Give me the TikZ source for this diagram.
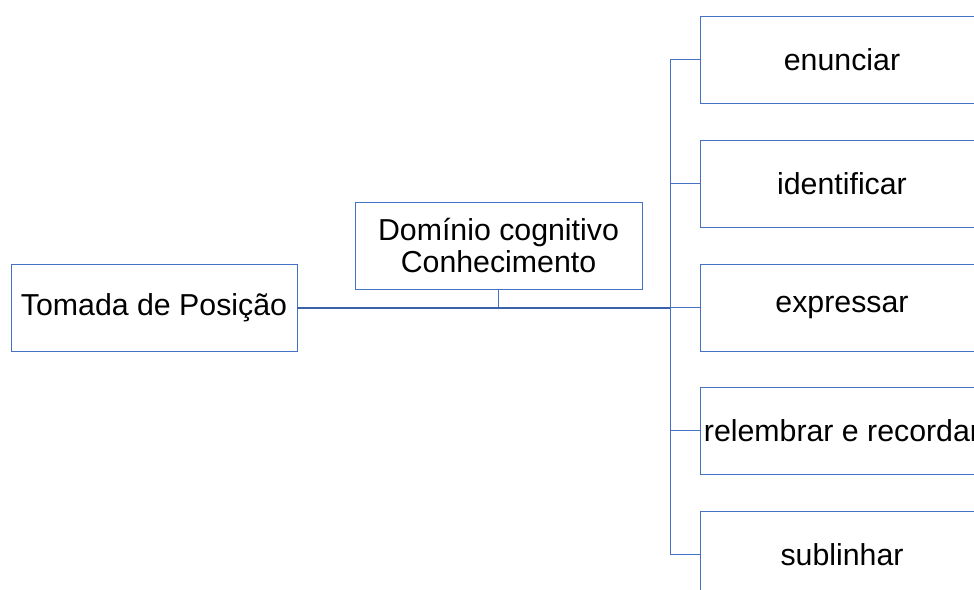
\documentclass[tikz,border=0pt]{standalone}
\usepackage{fontspec}
\setmainfont{Liberation Sans}
\definecolor{boxblue}{HTML}{4472C4}
\definecolor{mainblue}{HTML}{3A62A8}
\begin{document}
\begin{tikzpicture}[x=1pt,y=-1pt,
  box/.style={draw=boxblue,line width=0.9pt,rectangle,inner sep=0pt,
    minimum width=286pt,minimum height=87pt,align=center,
    font=\fontsize{30.3}{32.5}\selectfont},
  link/.style={draw=boxblue,line width=0.9pt},
  mainlink/.style={draw=mainblue,line width=2pt}]
\useasboundingbox (0,0) rectangle (974,589);
\clip (0,0) rectangle (974,589);
\fill[white] (0,0) rectangle (974,589);
\node[box] (root) at (154,307.5) {Tomada de Posição};
\node[box,minimum width=287pt] (dom) at (498.5,245.5) {Domínio cognitivo\\Conhecimento};
\node[box,minimum width=284pt] (b1) at (842,59.5) {enunciar};
\node[box,minimum width=284pt] (b2) at (842,183.5) {identificar};
\node[box,minimum width=284pt] (b3) at (842,307.5) {expressar};
\node[box,minimum width=284pt] (b4) at (842,430.5) {relembrar e recordar};
\node[box,minimum width=284pt] (b5) at (842,554.5) {sublinhar};
\coordinate (hub) at (670,307.5);
\coordinate (mid) at (498.5,307.5);
\draw[link] (dom.south) -- (mid);
\draw[link] (b1.west) -- (b1.west -| hub) -- (b5.west -| hub) -- (b5.west);
\draw[link] (b2.west -| hub) -- (b2.west);
\draw[link] (b4.west -| hub) -- (b4.west);
\draw[link] (hub) -- (b3.west);
\draw[mainlink] (root.east) -- (hub);
\end{tikzpicture}
\end{document}
